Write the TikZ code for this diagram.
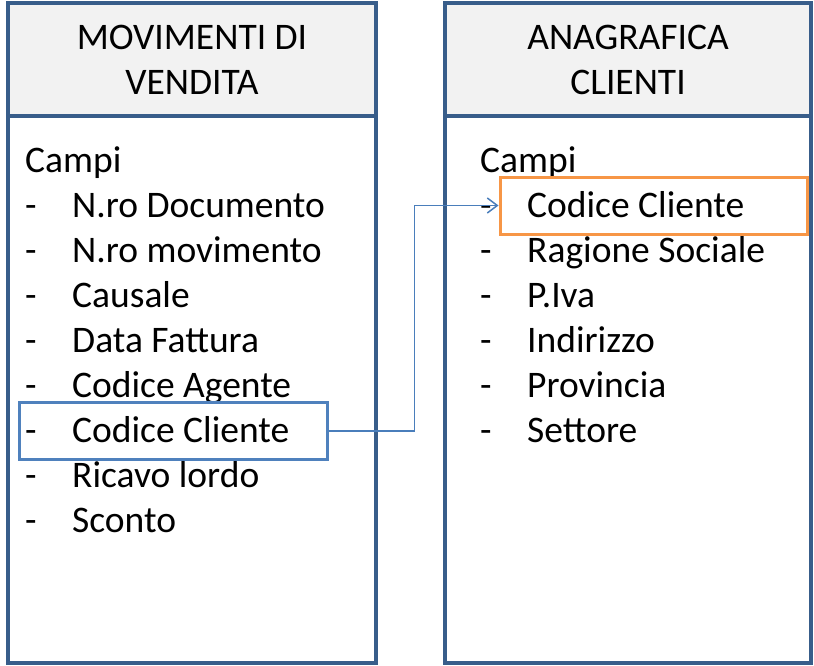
\documentclass[tikz,border=0pt]{standalone}
\usepackage{fontspec}
\setmainfont{Carlito}
\usetikzlibrary{arrows.meta}
\definecolor{box_blue}{RGB}{56, 93, 138}
\definecolor{head_grey}{RGB}{242, 242, 242}
\definecolor{link_blue}{RGB}{74, 126, 187}
\definecolor{sel_blue}{RGB}{79, 129, 189}
\definecolor{sel_orange}{RGB}{247, 150, 70}
\tikzstyle{head}=[rectangle,fill=head_grey,draw=box_blue,line width=3.5pt,
  align=center,minimum height=113pt,inner sep=0pt,font=\fontsize{37.5}{45}\selectfont]
\tikzstyle{body}=[rectangle,draw=box_blue,line width=3.5pt,minimum height=547pt]
\tikzstyle{item}=[anchor=base west,inner sep=0pt,font=\fontsize{37.5}{45}\selectfont]
\tikzstyle{sel}=[rectangle,line width=3pt,minimum width=308pt,minimum height=57pt]
\tikzstyle{link}=[draw=link_blue,line width=1.5pt,-{Straight Barb[length=10pt,width=15pt]}]

\begin{document}
\begin{tikzpicture}[x=1pt,y=-1pt]
    \useasboundingbox (0,0) rectangle (814,666);
    % movimenti di vendita
    \node [style=body,minimum width=368pt] (mvb) at (192,389.5) {};
    \node [style=head,minimum width=368pt] (mvh) at (192,59.5) {MOVIMENTI DI\\VENDITA};
    \node [style=item] (mvc) at (25,172) {Campi};
    \foreach \t [count=\i] in {{N.ro Documento},{N.ro movimento},{Causale},{Data Fattura},
        {Codice Agente},{Codice Cliente},{Ricavo lordo},{Sconto}} {
        \node [style=item] (mvd\i) at (25,172+45*\i) {-};
        \node [style=item] (mv\i) at (72,172+45*\i) {\t};
    }
    % anagrafica clienti
    \node [style=body,minimum width=366pt] (acb) at (628,389.5) {};
    \node [style=head,minimum width=366pt] (ach) at (628,59.5) {ANAGRAFICA\\CLIENTI};
    \node [style=item] (acc) at (480,172) {Campi};
    \foreach \t [count=\i] in {{Codice Cliente},{Ragione Sociale},{P.Iva},{Indirizzo},
        {Provincia},{Settore}} {
        \node [style=item] (acd\i) at (480,172+45*\i) {-};
        \node [style=item] (ac\i) at (527,172+45*\i) {\t};
    }
    % chiave
    \node [style=sel,draw=sel_blue] (mvsel) at (173,431) {};
    \node [style=sel,draw=sel_orange,minimum width=307pt] (acsel) at (653.5,205.5) {};
    \draw [style=link] (mvsel.east) -- ++(86,0) |- (acsel.west);
\end{tikzpicture}
\end{document}
